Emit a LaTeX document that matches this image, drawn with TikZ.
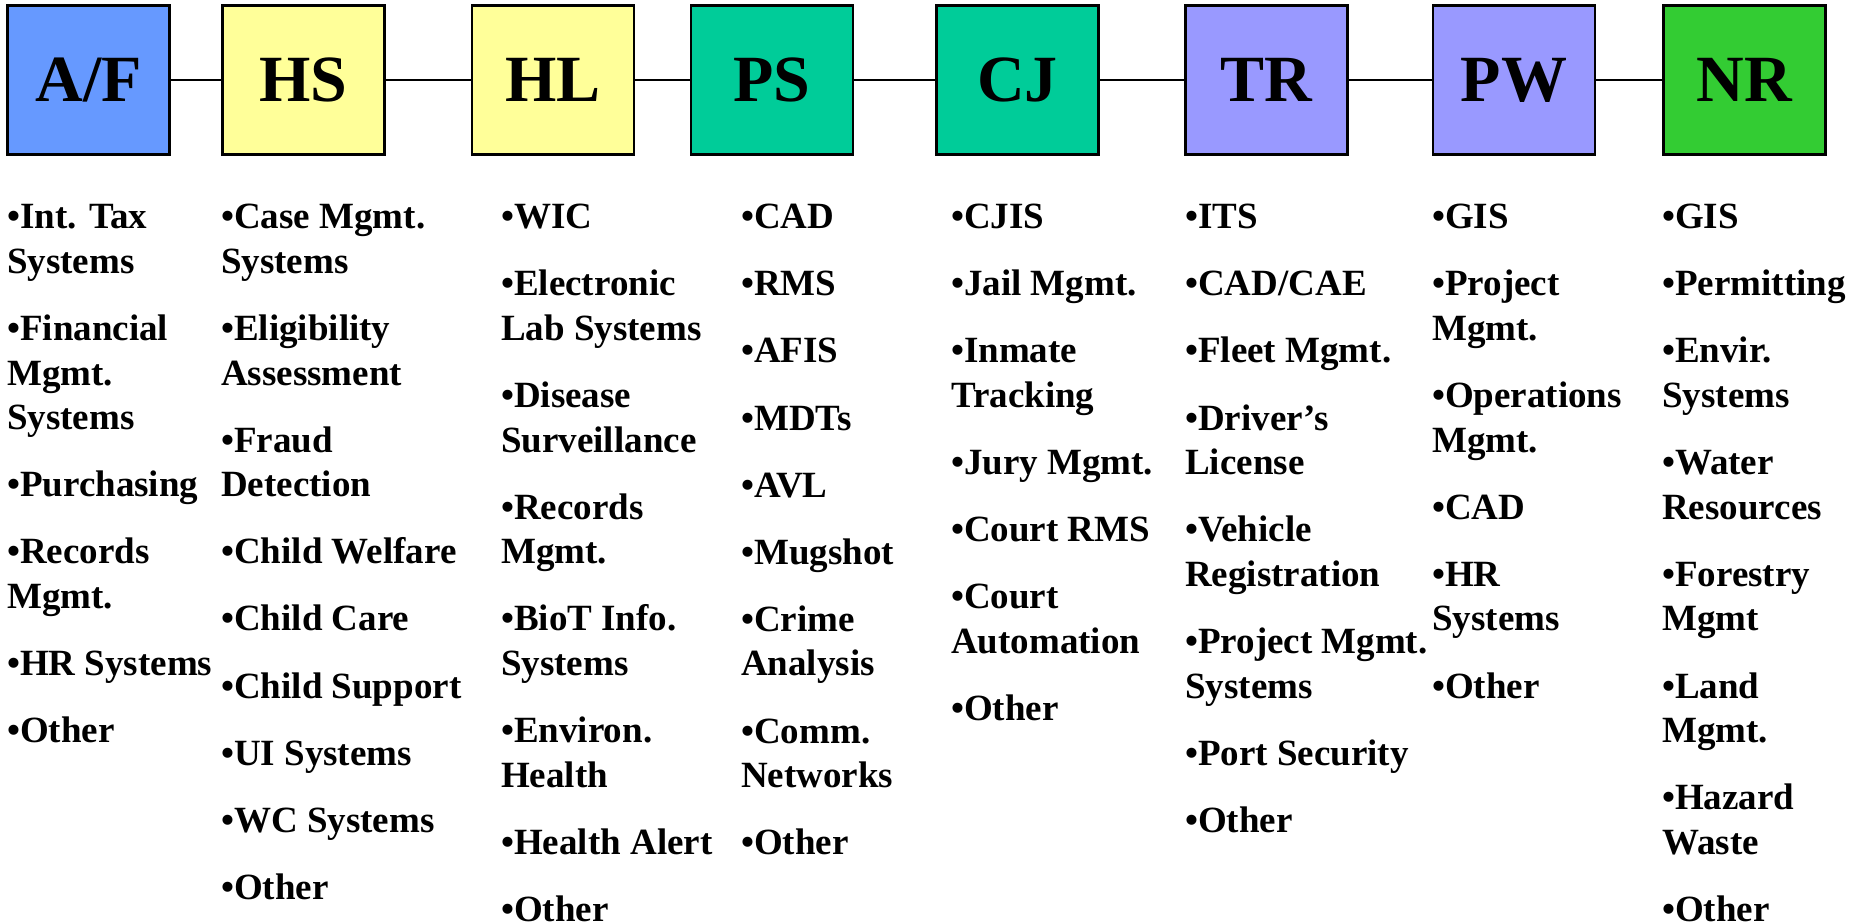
\documentclass[tikz,border=0pt]{standalone}
\usepackage{fontspec}
\setmainfont{Liberation Serif}
\newcommand{\topstrut}{\rule{0pt}{30pt}}
\begin{document}
\begin{tikzpicture}[x=1pt,y=-1pt,
  catbox/.style={draw=black, line width=2.6pt, minimum width=162pt, minimum height=149.5pt, inner sep=0pt,
    font=\fontsize{66}{70}\selectfont\bfseries},
  conn/.style={draw=black, line width=2.3pt},
  col/.style={anchor=north west, align=left, inner sep=0pt,
    font=\fontsize{37}{44.6}\selectfont\bfseries}
]
\definecolor{afblue}{RGB}{102,153,255}
\definecolor{hsyellow}{RGB}{255,255,153}
\definecolor{psteal}{RGB}{0,204,153}
\definecolor{trviolet}{RGB}{153,153,255}
\definecolor{nrgreen}{RGB}{51,204,51}
\useasboundingbox (0,0) rectangle (1852,922);

\node[catbox, fill=afblue] (af) at (88.75,80) {A/F};
\node[catbox, fill=hsyellow] (hs) at (303.5,80) {HS};
\node[catbox, fill=hsyellow] (hl) at (553,80) {HL};
\node[catbox, fill=psteal] (ps) at (772,80) {PS};
\node[catbox, fill=psteal] (cj) at (1017.5,80) {CJ};
\node[catbox, fill=trviolet] (tr) at (1266.5,80) {TR};
\node[catbox, fill=trviolet] (pw) at (1514,80) {PW};
\node[catbox, fill=nrgreen] (nr) at (1744.5,80) {NR};

\draw[conn] (af.east) -- (hs.west);
\draw[conn] (hs.east) -- (hl.west);
\draw[conn] (hl.east) -- (ps.west);
\draw[conn] (ps.east) -- (cj.west);
\draw[conn] (cj.east) -- (tr.west);
\draw[conn] (tr.east) -- (pw.west);
\draw[conn] (pw.east) -- (nr.west);

\node[col] (l1) at (7,198.5) {\topstrut•Int. Tax\\Systems\\[22.5pt]•Financial\\Mgmt.\\Systems\\[22.5pt]•Purchasing\\[22.5pt]•Records\\Mgmt.\\[22.5pt]•HR Systems\\[22.5pt]•Other};
\node[col] (l2) at (221,198.5) {\topstrut•Case Mgmt.\\Systems\\[22.5pt]•Eligibility\\Assessment\\[22.5pt]•Fraud\\Detection\\[22.5pt]•Child Welfare\\[22.5pt]•Child Care\\[22.5pt]•Child Support\\[22.5pt]•UI Systems\\[22.5pt]•WC Systems\\[22.5pt]•Other};
\node[col] (l3) at (501,198.5) {\topstrut•WIC\\[22.5pt]•Electronic\\Lab Systems\\[22.5pt]•Disease\\Surveillance\\[22.5pt]•Records\\Mgmt.\\[22.5pt]•BioT Info.\\Systems\\[22.5pt]•Environ.\\Health\\[22.5pt]•Health Alert\\[22.5pt]•Other};
\node[col] (l4) at (741,198.5) {\topstrut•CAD\\[22.5pt]•RMS\\[22.5pt]•AFIS\\[22.5pt]•MDTs\\[22.5pt]•AVL\\[22.5pt]•Mugshot\\[22.5pt]•Crime\\Analysis\\[22.5pt]•Comm.\\Networks\\[22.5pt]•Other};
\node[col] (l5) at (951,198.5) {\topstrut•CJIS\\[22.5pt]•Jail Mgmt.\\[22.5pt]•Inmate\\Tracking\\[22.5pt]•Jury Mgmt.\\[22.5pt]•Court RMS\\[22.5pt]•Court\\Automation\\[22.5pt]•Other};
\node[col] (l6) at (1185,198.5) {\topstrut•ITS\\[22.5pt]•CAD/CAE\\[22.5pt]•Fleet Mgmt.\\[22.5pt]•Driver’s\\License\\[22.5pt]•Vehicle\\Registration\\[22.5pt]•Project Mgmt.\\Systems\\[22.5pt]•Port Security\\[22.5pt]•Other};
\node[col] (l7) at (1432,198.5) {\topstrut•GIS\\[22.5pt]•Project\\Mgmt.\\[22.5pt]•Operations\\Mgmt.\\[22.5pt]•CAD\\[22.5pt]•HR\\Systems\\[22.5pt]•Other};
\node[col] (l8) at (1662,198.5) {\topstrut•GIS\\[22.5pt]•Permitting\\[22.5pt]•Envir.\\Systems\\[22.5pt]•Water\\Resources\\[22.5pt]•Forestry\\Mgmt\\[22.5pt]•Land\\Mgmt.\\[22.5pt]•Hazard\\Waste\\[22.5pt]•Other};
\end{tikzpicture}
\end{document}
